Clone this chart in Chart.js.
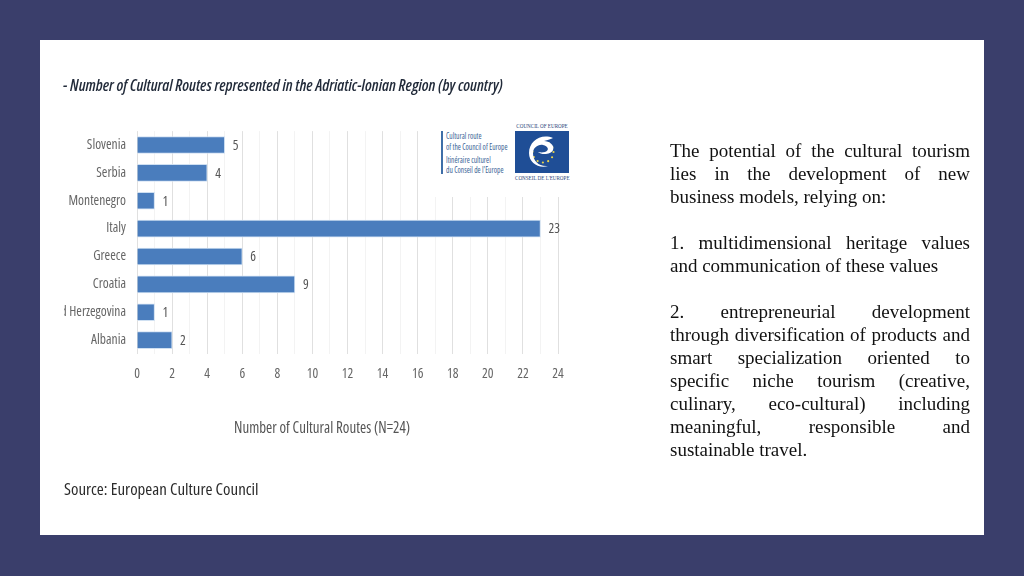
<!DOCTYPE html>
<html><head><meta charset="utf-8">
<script src="https://cdn.jsdelivr.net/npm/chart.js@4"></script>
<style>
html,body{margin:0;padding:0;width:1024px;height:576px;overflow:hidden;background:#3a3e6b}
#panel{position:absolute;left:40px;top:40px;width:944px;height:495px;background:#fff}
.abs{position:absolute;white-space:nowrap}
#shot{position:absolute;left:0;top:0;width:1024px;height:576px;filter:blur(.35px)}
#title{left:63px;top:74px;font-size:16px;font-style:italic;font-weight:600;color:#222b3a;font-family:"Open Sans",sans-serif;font-stretch:condensed}
#source{left:64px;top:477px;font-size:16.9px;color:#2b2b2b;font-family:"Open Sans",sans-serif;font-stretch:condensed}
#axisTitle{left:234px;top:415px;font-size:17px;color:#555;font-family:"Open Sans",sans-serif;font-stretch:condensed;transform:scaleX(.88);transform-origin:0 0}
#wrap{position:absolute;left:64px;top:112px;width:520px;height:326px}
#logoMask{position:absolute;left:424px;top:110px;width:160px;height:87px;background:#fff}
#bar{position:absolute;left:441px;top:131px;width:1.5px;height:43px;background:#3f6fa8}
.route{left:446px;font-size:9px;color:#3a5f95;font-family:"Open Sans",sans-serif;font-stretch:condensed;transform:scaleX(.83);transform-origin:0 0}
#emblem{position:absolute;left:515px;top:131px;width:54px;height:42px}
.cap{font-family:"Liberation Serif",serif;font-size:5.1px;color:#1f3f78;left:515px;width:54px;text-align:center}
#txt{position:absolute;left:670px;top:138.5px;width:300px;font-family:"Liberation Serif",serif;font-size:19px;line-height:23.06px;color:#111}
#txt div{text-align:justify;text-align-last:justify;white-space:nowrap}
#txt div.end{text-align-last:left}
#txt div.tight{letter-spacing:-.1px}
#txt div.gap{height:23.06px}
</style></head><body>
<div id="panel"></div>
<div id="shot">
<div class="abs" id="title">- Number of Cultural Routes represented in the Adriatic-Ionian Region (by country)</div>
<div id="wrap"><canvas id="c" width="520" height="326"></canvas></div>
<div id="logoMask"></div>
<div id="bar"></div>
<div class="abs route" style="top:129px">Cultural route</div>
<div class="abs route" style="top:140px">of the Council of Europe</div>
<div class="abs route" style="top:153px">Itinéraire culturel</div>
<div class="abs route" style="top:163px">du Conseil de l'Europe</div>
<div class="abs cap" style="top:123px">COUNCIL OF EUROPE</div>
<svg id="emblem" viewBox="0 0 54 42">
<rect width="54" height="42" fill="#1f4e96"/>
<circle cx="28" cy="21" r="10.5" fill="none" stroke="#e8d24a" stroke-width="2.2" stroke-linecap="round" stroke-dasharray="0 5.5"/>
<path d="M38 7 C26 2 14 10 14 22 C14 32 24 38 33 35 C24 36 18 30 18 22 C18 17 23 13 28 14 C33 15 35 19 30 21 C26 22 24 21 23 21 C26 24 36 24 38 19 C40 14 34 10 29 10 C33 9 36 8 38 7Z" fill="#fff"/>
</svg>
<div class="abs cap" style="top:175px">CONSEIL DE L'EUROPE</div>
<div class="abs" id="axisTitle"></div>
<div class="abs" id="source">Source: European Culture Council</div>
</div>
<div id="txt">
<div>The potential of the cultural tourism</div>
<div>lies in the development of new</div>
<div class="end">business models, relying on:</div>
<div class="gap"></div>
<div>1. multidimensional heritage values</div>
<div class="end">and communication of these values</div>
<div class="gap"></div>
<div>2. entrepreneurial development</div>
<div>through diversification of products and</div>
<div>smart specialization oriented to</div>
<div>specific niche tourism (creative,</div>
<div>culinary, eco-cultural) including</div>
<div>meaningful, responsible and</div>
<div class="end">sustainable travel.</div>
</div>
<script>
const categories=["Slovenia","Serbia","Montenegro","Italy","Greece","Croatia","Bosnia and Herzegovina","Albania"];
const routes=[5,4,1,23,6,9,1,2];
const axisTitle="Number of Cultural Routes (N=24)";
const axisMax=24;
const FONT='"Open Sans",sans-serif';
document.getElementById('axisTitle').textContent=axisTitle;
const valueLabels={id:'valueLabels',afterDatasetsDraw(ch){
  const ctx=ch.ctx,m=ch.getDatasetMeta(0);
  ctx.save();ctx.font='condensed 13.5px '+FONT;ctx.fillStyle='#555';ctx.textBaseline='middle';ctx.textAlign='left';
  m.data.forEach((b,i)=>ctx.fillText(String(routes[i]),b.x+8,b.y+1));
  ctx.restore();
}};
new Chart(document.getElementById('c'),{
  type:'bar',
  data:{labels:categories,datasets:[{data:routes,backgroundColor:'#4a7dbd',borderColor:'#cfe0f2',borderWidth:1,barThickness:17}]},
  plugins:[valueLabels],
  options:{
    indexAxis:'y',responsive:false,animation:false,
    layout:{padding:{top:2,right:26,left:0,bottom:0}},
    plugins:{legend:{display:false},title:{display:false},tooltip:{enabled:false}},
    scales:{
      x:{min:0,max:axisMax,
        afterFit(s){s.height=84},
        border:{display:false},
        ticks:{stepSize:1,autoSkip:false,maxRotation:0,padding:12,color:'#666',font:{family:FONT,size:13.5,weight:'condensed'},
          callback:v=>v%2===0?String(v):''},
        grid:{drawTicks:false,color:c=>c.tick&&c.tick.value%2===0?'#e0e0e0':'#f3f3f3'},
        title:{display:false}
      },
      y:{
        afterFit(s){s.width=73},
        border:{display:false},
        grid:{display:false,drawTicks:false},
        ticks:{padding:11,color:'#666',font:{family:FONT,size:13.5,weight:'condensed'},autoSkip:false}
      }
    }
  }
});
</script>
</body></html>
